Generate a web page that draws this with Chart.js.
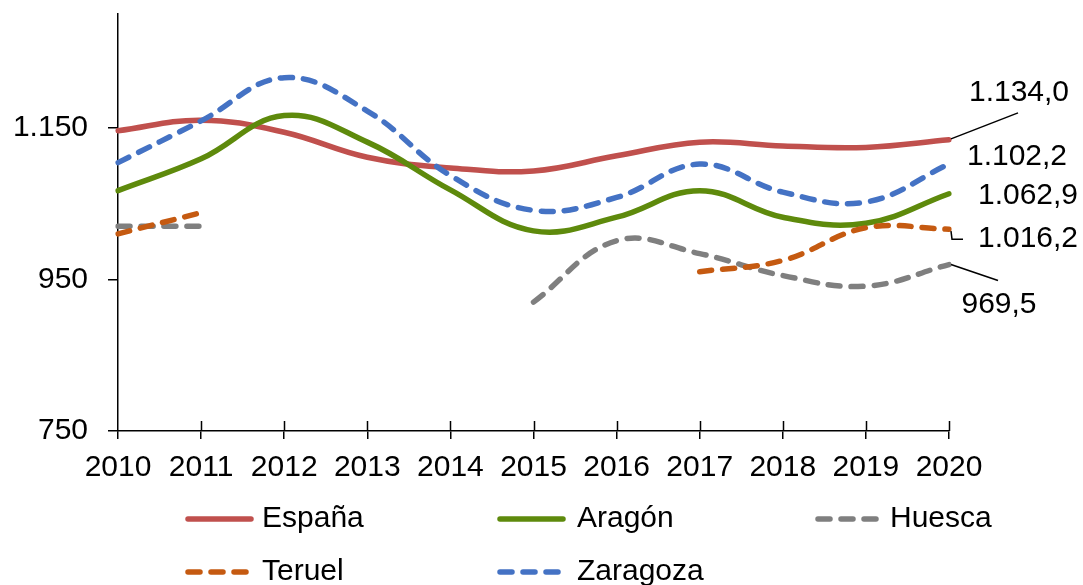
<!DOCTYPE html>
<html>
<head>
<meta charset="utf-8">
<script src="https://cdn.jsdelivr.net/npm/chart.js@4.4.1/dist/chart.umd.min.js"></script>
<style>
  html, body { margin: 0; padding: 0; background: #fff; }
  canvas { display: block; }
</style>
</head>
<body>
<canvas id="chart" width="1083" height="585"></canvas>
<script>
const years = ["2010", "2011", "2012", "2013", "2014", "2015", "2016", "2017", "2018", "2019", "2020"];
const yTicks = [750, 950, 1150];

const espana   = [1146, 1160, 1144, 1111, 1097, 1093, 1113, 1131, 1126, 1124, 1134.0];
const aragon   = [1067, 1109, 1166, 1131, 1068, 1014, 1032, 1067, 1032, 1024, 1062.9];
const huesca   = [1020, 1020, null, null, null, 920, 1001, 984, 955, 941, 969.5];
const teruel   = [1010, 1038, null, null, null, null, null, 960, 975, 1018, 1016.2];
const zaragoza = [1104, 1159, 1216, 1172, 1087, 1041, 1058, 1102, 1065, 1052, 1102.2];

const seriesNames = ["España", "Aragón", "Huesca", "Teruel", "Zaragoza"];
const seriesData = [espana, aragon, huesca, teruel, zaragoza];
const seriesColors = ["#C0504D", "#5E8A0C", "#7F7F7F", "#C55A11", "#4472C4"];
const seriesDashed = [false, false, true, true, true];

const FONT = "Liberation Sans, Arial, sans-serif";
const DASH = [12, 11];

// spanish number format: 1.134,0
function fmt(v, dec) {
  const parts = v.toFixed(dec).split(".");
  const int = parts[0].replace(/\B(?=(\d{3})+(?!\d))/g, ".");
  return parts.length > 1 ? int + "," + parts[1] : int;
}

// value labels at the last point, some with a leader line
const endLabels = {
  0: { dx: 70, dy: -47, leader: [[2, -1], [69, -27]] },
  1: { dx: 79, dy: 2 },
  2: { dx: 50, dy: 40, leader: [[2, 0], [49, 16]] },
  3: { dx: 79, dy: 10, leader: [[2, 2], [3, 10], [14, 10]] },
  4: { dx: 68, dy: -7 },
};

const endLabelPlugin = {
  id: "endLabels",
  afterDatasetsDraw(chart) {
    const ctx = chart.ctx;
    ctx.save();
    ctx.font = "30px " + FONT;
    ctx.fillStyle = "#000";
    ctx.textAlign = "center";
    ctx.textBaseline = "middle";
    chart.data.datasets.forEach((ds, i) => {
      const cfg = endLabels[i];
      const meta = chart.getDatasetMeta(i);
      const last = ds.data.length - 1;
      const pt = meta.data[last];
      if (!cfg || !pt) return;
      if (cfg.leader) {
        ctx.beginPath();
        ctx.strokeStyle = "#000";
        ctx.lineWidth = 1.5;
        cfg.leader.forEach((p, k) => {
          if (k === 0) ctx.moveTo(pt.x + p[0], pt.y + p[1]);
          else ctx.lineTo(pt.x + p[0], pt.y + p[1]);
        });
        ctx.stroke();
      }
      ctx.fillText(fmt(ds.data[last], 1), pt.x + cfg.dx, pt.y + cfg.dy);
    });
    ctx.restore();
  },
};

// x ticks cross the axis, so add the part above it
const innerTicksPlugin = {
  id: "innerTicks",
  beforeDatasetsDraw(chart) {
    const ctx = chart.ctx;
    const x = chart.scales.x;
    ctx.save();
    ctx.strokeStyle = "#000";
    ctx.lineWidth = 1.5;
    ctx.beginPath();
    x.ticks.forEach((t, i) => {
      if (i === 0) return;
      const px = Math.round(x.getPixelForTick(i)) + 0.5;
      ctx.moveTo(px, x.top - 10);
      ctx.lineTo(px, x.top);
    });
    ctx.stroke();
    ctx.restore();
  },
};

// legend in a three column grid under the plot
const legendCells = [
  { lineX: 185, textX: 262, y: 519 },
  { lineX: 497, textX: 577, y: 519 },
  { lineX: 815, textX: 890, y: 519 },
  { lineX: 185, textX: 262, y: 572 },
  { lineX: 497, textX: 577, y: 572 },
];

const gridLegendPlugin = {
  id: "gridLegend",
  afterDraw(chart) {
    const ctx = chart.ctx;
    ctx.save();
    ctx.font = "30px " + FONT;
    ctx.textBaseline = "middle";
    ctx.textAlign = "left";
    chart.data.datasets.forEach((ds, i) => {
      const c = legendCells[i];
      ctx.beginPath();
      ctx.strokeStyle = ds.borderColor;
      ctx.lineWidth = 5.5;
      ctx.lineCap = "round";
      ctx.setLineDash(seriesDashed[i] ? DASH : []);
      ctx.moveTo(c.lineX + 3, c.y);
      ctx.lineTo(c.lineX + 66, c.y);
      ctx.stroke();
      ctx.setLineDash([]);
      ctx.fillStyle = "#000";
      ctx.fillText(seriesNames[i], c.textX, c.y);
    });
    ctx.restore();
  },
};

const datasets = seriesNames.map((name, i) => ({
  label: name,
  data: seriesData[i],
  borderColor: seriesColors[i],
  backgroundColor: seriesColors[i],
  borderWidth: 5.5,
  borderDash: seriesDashed[i] ? DASH : [],
  borderCapStyle: "round",
  borderJoinStyle: "round",
  pointRadius: 0,
  pointHoverRadius: 0,
  tension: 0.4,
  spanGaps: false,
  fill: false,
  order: seriesNames.length - i,
}));

new Chart(document.getElementById("chart"), {
  type: "line",
  data: { labels: years, datasets: datasets },
  options: {
    responsive: false,
    animation: false,
    devicePixelRatio: 1,
    layout: { padding: { top: 14, right: 134, left: 0, bottom: 0 } },
    plugins: {
      legend: { display: false },
      tooltip: { enabled: false },
    },
    scales: {
      x: {
        offset: false,
        grid: {
          drawOnChartArea: false,
          drawTicks: true,
          tickLength: 8,
          color: "#000",
          lineWidth: 1.5,
        },
        border: { color: "#000", width: 1.5 },
        ticks: {
          color: "#000",
          font: { family: FONT, size: 30 },
          padding: 11,
          maxRotation: 0,
          autoSkip: false,
        },
        afterFit(scale) {
          scale.height = 154;
          scale.paddingLeft = 0;
          scale.paddingRight = 0;
        },
      },
      y: {
        min: 750,
        max: 1300,
        afterBuildTicks(scale) {
          scale.ticks = yTicks.map((v) => ({ value: v }));
        },
        grid: {
          drawOnChartArea: false,
          drawTicks: true,
          tickLength: 10,
          color: "#000",
          lineWidth: 1.5,
        },
        border: { color: "#000", width: 1.5 },
        ticks: {
          color: "#000",
          font: { family: FONT, size: 30 },
          padding: 20,
          callback: (v) => fmt(v, 0),
        },
        afterFit(scale) {
          scale.width = 118;
          scale.paddingTop = 0;
          scale.paddingBottom = 0;
        },
      },
    },
  },
  plugins: [endLabelPlugin, innerTicksPlugin, gridLegendPlugin],
});
</script>
</body>
</html>
